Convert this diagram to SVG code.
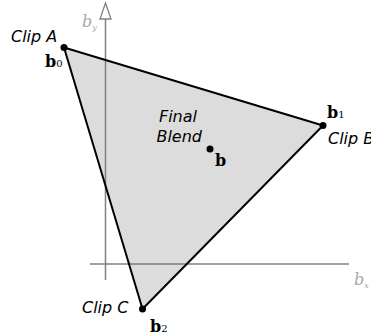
<svg xmlns="http://www.w3.org/2000/svg" width="371" height="335" viewBox="0 0 371 335">
<style>
.ax{stroke:#808080;stroke-width:1.5;fill:none}
.lbl{font-family:"DejaVu Sans",sans-serif;font-style:italic;font-size:16px;fill:#000}
.vec{font-family:"DejaVu Serif",serif;font-weight:bold;font-size:16px;fill:#000}
.sub{font-family:"DejaVu Serif",serif;font-size:10px;font-weight:normal}
.axl{font-family:"DejaVu Serif",serif;font-style:italic;font-size:16px;fill:#a8a8a8}
.axs{font-size:8px}
.dot{fill:#000}
</style>
<rect width="371" height="335" fill="#fff"/>
<polygon points="64,47.5 323,125.5 142.5,309" fill="#dcdcdc" stroke="none"/>
<g id="axes">
<line class="ax" x1="105.5" y1="19" x2="105.5" y2="280"/>
<polygon points="105.5,3 100,19 111,19" fill="#fff" stroke="#808080" stroke-width="1.3"/>
<line class="ax" x1="90" y1="264" x2="349" y2="264"/>
<text class="axl" x="82" y="27">b<tspan class="axs" dy="3">y</tspan></text>
<text class="axl" x="354" y="285">b<tspan class="axs" dy="3">x</tspan></text>
</g>
<g id="connectors">
<polygon points="64,47.5 323,125.5 142.5,309" fill="none" stroke="#000" stroke-width="2" stroke-linejoin="round"/>
</g>
<g id="b0">
<circle class="dot" cx="64" cy="47.5" r="3.5"/>
<text class="lbl" x="11" y="42">Clip A</text>
<text class="vec" x="45" y="67">b<tspan class="sub">0</tspan></text>
</g>
<g id="b1">
<circle class="dot" cx="323" cy="125.5" r="3.5"/>
<text class="vec" x="327" y="118">b<tspan class="sub">1</tspan></text>
<text class="lbl" x="328" y="144">Clip B</text>
</g>
<g id="b2">
<circle class="dot" cx="142.5" cy="309" r="3.5"/>
<text class="lbl" x="82" y="313">Clip C</text>
<text class="vec" x="150" y="332">b<tspan class="sub">2</tspan></text>
</g>
<g id="b">
<circle class="dot" cx="210" cy="149" r="3.5"/>
<text class="lbl" x="197" y="122" text-anchor="end">Final</text>
<text class="lbl" x="202" y="142" text-anchor="end">Blend</text>
<text class="vec" x="215" y="166">b</text>
</g>
</svg>
